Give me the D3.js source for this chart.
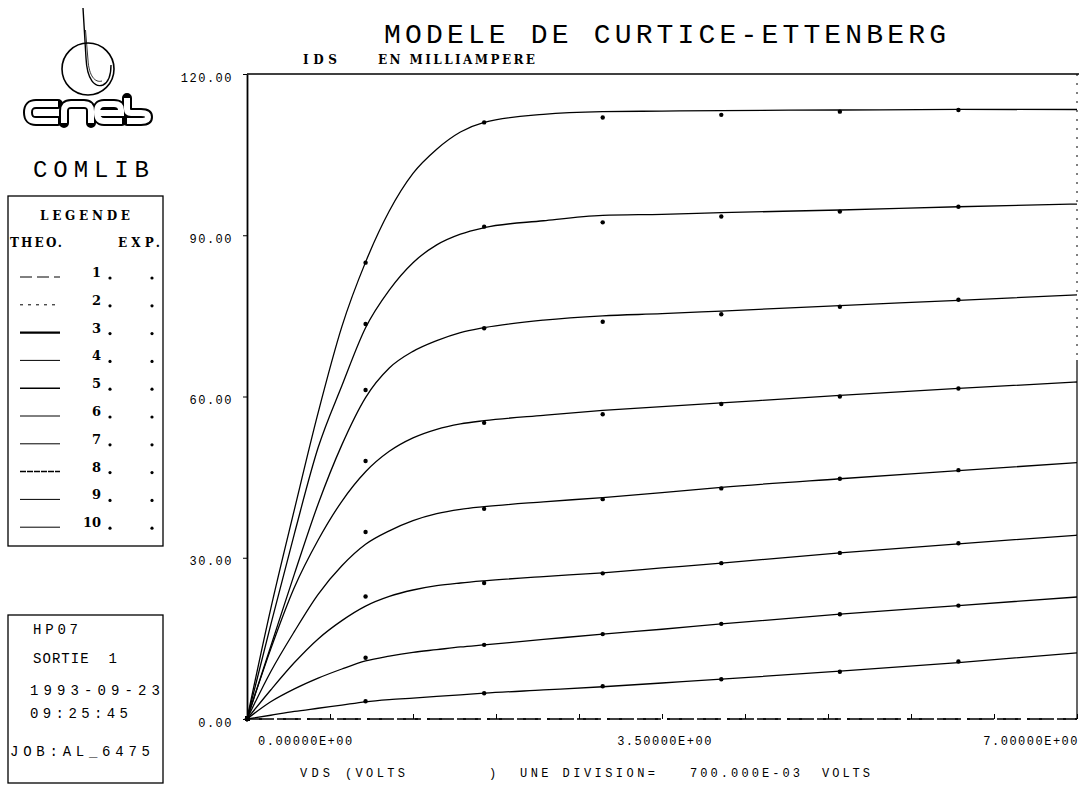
<!DOCTYPE html>
<html>
<head>
<meta charset="utf-8">
<script src="https://cdn.jsdelivr.net/npm/d3@7"></script>
<style>
  body { margin: 0; background: #fff; }
  #chart { width: 1079px; height: 787px; }
  text { white-space: pre; }
</style>
</head>
<body>
<div id="chart"></div>
<script>
// VDS grid of the theoretical curves (volts)
const vds = [0, 0.2, 0.4, 0.6, 0.8, 1.0, 1.2, 1.4, 1.6, 1.8, 2.0, 2.5, 3.0, 3.5, 4.0, 5.0, 6.0, 7.0];
// IDS theoretical (mA), one array per curve
const theo1 = [0, 20.5, 39, 57, 73, 85, 94.5, 101.5, 106, 109.2, 111, 112.5, 113.0, 113.1, 113.2, 113.3, 113.4, 113.4];
const theo2 = [0, 17.5, 34.5, 50.5, 62, 72.8, 79.8, 84.9, 88.2, 90.2, 91.4, 92.7, 93.7, 93.9, 94.2, 94.7, 95.3, 95.8];
const theo3 = [0, 13.5, 27, 40, 51, 59.8, 65.3, 68.4, 70.4, 71.9, 72.8, 74.2, 75.0, 75.4, 75.9, 76.9, 77.9, 78.9];
const theo4 = [0, 13, 24.5, 33.3, 40.5, 46.0, 49.8, 52.3, 53.9, 54.9, 55.5, 56.5, 57.4, 58.1, 58.8, 60.2, 61.5, 62.7];
const theo5 = [0, 8.8, 16.3, 23.2, 28.5, 32.5, 35.0, 36.9, 38.2, 39.0, 39.5, 40.4, 41.2, 42.1, 43.1, 44.7, 46.2, 47.7];
const theo6 = [0, 5.4, 10.5, 14.9, 18.3, 21.0, 22.8, 24.0, 24.8, 25.3, 25.7, 26.5, 27.2, 28.1, 29.0, 30.9, 32.6, 34.2];
const theo7 = [0, 3.2, 5.6, 7.6, 9.3, 10.8, 11.7, 12.4, 12.9, 13.4, 13.8, 14.8, 15.8, 16.7, 17.7, 19.5, 21.1, 22.7];
const theo8 = [0, 0.7, 1.4, 2.0, 2.6, 3.2, 3.6, 3.9, 4.2, 4.5, 4.8, 5.4, 6.0, 6.7, 7.4, 8.9, 10.5, 12.3];
const theo9 = [0, 0, 0, 0, 0, 0, 0, 0, 0, 0, 0, 0, 0, 0, 0, 0, 0, 0];
const theo10 = [0, 0, 0, 0, 0, 0, 0, 0, 0, 0, 0, 0, 0, 0, 0, 0, 0, 0];

// measured points
const vdsExp = [0, 1, 2, 3, 4, 5, 6];
const exp1 = [0, 84.9, 111.0, 111.9, 112.4, 113.0, 113.3];
const exp2 = [0, 73.5, 91.6, 92.4, 93.5, 94.4, 95.3];
const exp3 = [0, 61.2, 72.7, 73.9, 75.3, 76.7, 78.0];
const exp4 = [0, 48.0, 55.1, 56.7, 58.6, 60.0, 61.5];
const exp5 = [0, 34.8, 39.1, 40.9, 42.9, 44.7, 46.3];
const exp6 = [0, 22.8, 25.3, 27.1, 29.0, 30.9, 32.7];
const exp7 = [0, 11.4, 13.8, 15.8, 17.7, 19.5, 21.1];
const exp8 = [0, 3.3, 4.8, 6.1, 7.4, 8.8, 10.7];

const legendIds = ['1', '2', '3', '4', '5', '6', '7', '8', '9', '10'];
const yTicks = [0, 30, 60, 90, 120];
const yTickLabels = ['0.00', '30.00', '60.00', '90.00', '120.00'];
const xTicks = [0, 0.7, 1.4, 2.1, 2.8, 3.5, 4.2, 4.9, 5.6, 6.3, 7.0];
const xTickLabels = ['0.00000E+00', '3.50000E+00', '7.00000E+00'];
const infoLines = ['HP07', 'SORTIE  1', '1993-09-23', '09:25:45', 'JOB:AL_6475'];

class RenderCurticeChart {
    constructor(props) {
        this.props = props;
    }

    render() {
        const mainEl = d3.select(this.props.container);
        mainEl.select('svg').remove();
        const svg = mainEl.append('svg')
            .attr('width', 1079)
            .attr('height', 787)
            .style('font-family', '"DejaVu Serif", serif');

        this.drawLogo(svg);
        this.drawLegend(svg);
        this.drawInfo(svg);

        const left = 247, right = 1077, top = 74, bottom = 719;
        const x = d3.scaleLinear().domain([0, 7]).range([left, right]);
        const y = d3.scaleLinear().domain([0, 120]).range([bottom, top]);

        // title + units
        svg.append('text')
            .attr('x', 384).attr('y', 43)
            .attr('textLength', 562).attr('lengthAdjust', 'spacing')
            .style('font-family', '"Liberation Mono", monospace')
            .style('font-size', '28px')
            .text('MODELE DE CURTICE-ETTENBERG');
        svg.append('text').attr('x', 303).attr('y', 64)
            .attr('textLength', 34)
            .style('font-size', '12px').style('font-weight', 'bold')
            .text('IDS');
        svg.append('text').attr('x', 378).attr('y', 64)
            .attr('textLength', 157)
            .style('font-size', '12px').style('font-weight', 'bold')
            .text('EN MILLIAMPERE');

        // frame
        svg.append('line').attr('x1', left).attr('x2', 1079).attr('y1', top).attr('y2', top)
            .attr('stroke', '#000').attr('stroke-width', 1.5);
        svg.append('line').attr('x1', right).attr('x2', right).attr('y1', top).attr('y2', 360)
            .attr('stroke', '#000').attr('stroke-width', 1).attr('stroke-dasharray', '2,7');
        svg.append('line').attr('x1', right).attr('x2', right).attr('y1', 360).attr('y2', bottom)
            .attr('stroke', '#000').attr('stroke-width', 1.2);

        // y axis
        const yAxis = svg.append('g')
            .attr('transform', 'translate(' + left + ',0)')
            .call(d3.axisLeft(y).tickValues(yTicks)
                .tickFormat((d, i) => yTickLabels[i])
                .tickSize(4).tickSizeOuter(0).tickPadding(10));
        yAxis.select('.domain').attr('stroke-width', 1.8);
        yAxis.selectAll('text')
            .style('font-family', '"Liberation Mono", monospace')
            .style('font-size', '12px')
            .style('letter-spacing', '1.5px')
            .attr('dy', '0.6em');

        // x axis, ticks point up into the plot
        const xAxis = svg.append('g')
            .attr('transform', 'translate(0,' + bottom + ')')
            .call(d3.axisBottom(x).tickValues(xTicks).tickFormat('')
                .tickSize(-5).tickSizeOuter(0));
        xAxis.select('.domain').remove();

        const xLab = svg.append('g')
            .style('font-family', '"Liberation Mono", monospace')
            .style('font-size', '12px')
            .style('letter-spacing', '1.5px');
        xLab.append('text').attr('x', x(0) + 11).attr('y', 745).text(xTickLabels[0]);
        xLab.append('text').attr('x', x(3.5) + 3).attr('y', 745).attr('text-anchor', 'middle').text(xTickLabels[1]);
        xLab.append('text').attr('x', 1079).attr('y', 745).attr('text-anchor', 'end').text(xTickLabels[2]);

        const bot = svg.append('g')
            .style('font-family', '"Liberation Mono", monospace')
            .style('font-size', '12px');
        bot.append('text').attr('x', 300).attr('y', 777).attr('textLength', 30).text('VDS');
        bot.append('text').attr('x', 345).attr('y', 777).attr('textLength', 60).text('(VOLTS');
        bot.append('text').attr('x', 489).attr('y', 777).text(')');
        bot.append('text').attr('x', 520).attr('y', 777).attr('textLength', 135).text('UNE DIVISION=');
        bot.append('text').attr('x', 690).attr('y', 777).attr('textLength', 110).text('700.000E-03');
        bot.append('text').attr('x', 822).attr('y', 777).attr('textLength', 48).text('VOLTS');

        // curves
        const theo = [theo1, theo2, theo3, theo4, theo5, theo6, theo7, theo8, theo9, theo10];
        const exps = [exp1, exp2, exp3, exp4, exp5, exp6, exp7, exp8];
        const line = d3.line()
            .x(d => x(d[0]))
            .y(d => y(d[1]))
            .curve(d3.curveMonotoneX);

        theo.forEach((serie, i) => {
            const pts = vds.map((v, k) => [v, serie[k]]);
            const p = svg.append('path')
                .datum(pts)
                .attr('d', line)
                .attr('fill', 'none')
                .attr('stroke', '#000')
                .attr('stroke-width', i >= 8 ? 1.6 : 1.3);
            if (i === 8) p.attr('stroke-dasharray', '24,6');
            if (i === 9) p.attr('stroke-dasharray', '3,9');
        });

        exps.forEach(serie => {
            svg.append('g').selectAll('circle')
                .data(vdsExp.map((v, k) => [v, serie[k]]))
                .enter()
                .append('circle')
                .attr('cx', d => x(d[0]))
                .attr('cy', d => y(d[1]))
                .attr('r', 2.2)
                .attr('fill', '#000');
        });
        svg.append('rect').attr('x', left - 2).attr('y', bottom - 3).attr('width', 5).attr('height', 5).attr('fill', '#000');
    }

    drawLogo(svg) {
        const g = svg.append('g').attr('fill', 'none').attr('stroke', '#000');
        g.append('circle').attr('cx', 88).attr('cy', 69).attr('r', 26).attr('stroke-width', 1.6);
        g.append('path').attr('d', 'M83,8 L86,58 C87,80 95,88 103,85 C109,82 111,73 111,65').attr('stroke-width', 1.4);
        g.append('path').attr('d', 'M85.5,30 L88,60 C89,76 95,83 102,81').attr('stroke-width', 0.8);

        const letters = [
            'M58,104 H36 Q28,104 28,112.5 Q28,121 36,121 H58',
            'M64,123 V111 Q64,104 71,104 H84 Q91,104 91,111 V123',
            'M97,113 H121 V110 Q121,104 114,104 H104 Q97,104 97,112 Q97,121 104,121 H122',
            'M127,98 V109 Q127,113 131,113 H141 Q148,113 148,117 Q148,121 141,121 H127'
        ];
        letters.forEach(d => g.append('path').attr('d', d).attr('stroke-width', 10).attr('stroke-linecap', 'round'));
        letters.forEach(d => g.append('path').attr('d', d).attr('stroke', '#fff').attr('stroke-width', 6));

        svg.append('text').attr('x', 33).attr('y', 177)
            .attr('textLength', 116)
            .style('font-family', '"Liberation Mono", monospace')
            .style('font-size', '24px')
            .text('COMLIB');
    }

    drawLegend(svg) {
        const g = svg.append('g').style('font-weight', 'bold').style('font-size', '12px');
        g.append('rect').attr('x', 8).attr('y', 196).attr('width', 155).attr('height', 350)
            .attr('fill', 'none').attr('stroke', '#000').attr('stroke-width', 1.3);
        g.append('text').attr('x', 40).attr('y', 220).attr('textLength', 90).text('LEGENDE');
        g.append('text').attr('x', 10).attr('y', 247).attr('textLength', 52).text('THEO.');
        g.append('text').attr('x', 118).attr('y', 247).attr('textLength', 42).text('EXP.');

        const dashes = ['12,5', '3,5', null, null, null, null, null, '6,1', null, null];
        const widths = [1, 1, 2.2, 1, 1.6, 1, 1, 1.5, 1, 1];
        legendIds.forEach((id, i) => {
            const yy = 277 + i * 27.8;
            const l = g.append('line').attr('x1', 20).attr('x2', 60).attr('y1', yy).attr('y2', yy)
                .attr('stroke', '#000').attr('stroke-width', widths[i]);
            if (dashes[i]) l.attr('stroke-dasharray', dashes[i]);
            g.append('text').attr('x', 101).attr('y', yy).attr('text-anchor', 'end')
                .style('font-size', '13px').text(id);
            g.append('circle').attr('cx', 110).attr('cy', yy + 1).attr('r', 1.6).attr('fill', '#000');
            g.append('circle').attr('cx', 152).attr('cy', yy + 1).attr('r', 1.6).attr('fill', '#000');
        });
    }

    drawInfo(svg) {
        const g = svg.append('g')
            .style('font-family', '"Liberation Mono", monospace')
            .style('font-size', '14px');
        g.append('rect').attr('x', 8).attr('y', 615).attr('width', 155).attr('height', 168)
            .attr('fill', 'none').attr('stroke', '#000').attr('stroke-width', 1.3);
        const xs = [33, 33, 30, 30, 10];
        const ys = [634, 663, 695, 718, 756];
        const lens = [45, 84, 130, 98, 140];
        infoLines.forEach((t, i) => {
            g.append('text').attr('x', xs[i]).attr('y', ys[i])
                .attr('textLength', lens[i]).text(t);
        });
    }
}

new RenderCurticeChart({ container: '#chart' }).render();
</script>
</body>
</html>
